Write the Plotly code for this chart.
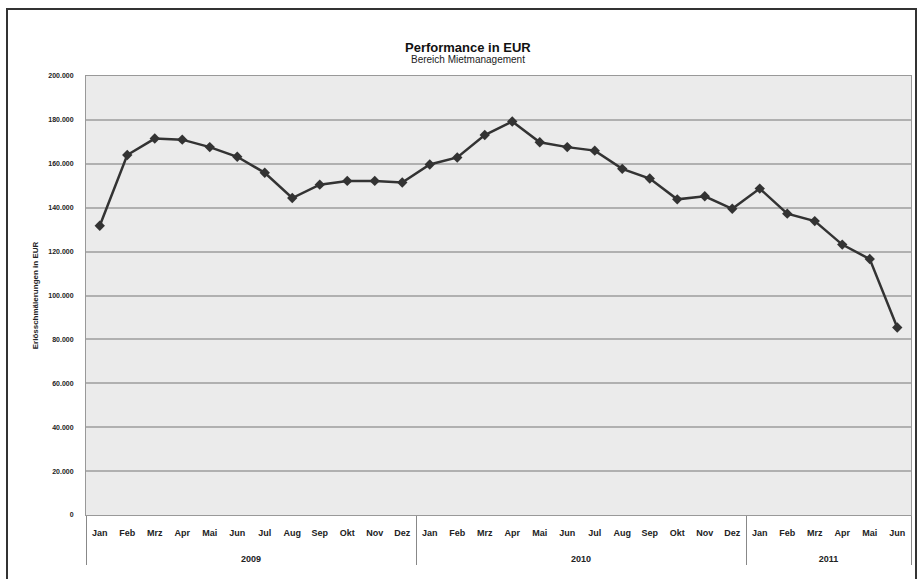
import plotly.graph_objects as go

years = ["2009"] * 12 + ["2010"] * 12 + ["2011"] * 6
months = ["Jan", "Feb", "Mrz", "Apr", "Mai", "Jun", "Jul", "Aug", "Sep", "Okt", "Nov", "Dez"] * 2 + \
         ["Jan", "Feb", "Mrz", "Apr", "Mai", "Jun"]
values = [131800, 164000, 171500, 171000, 167600, 163200, 155900, 144400, 150500, 152200, 152200, 151500,
          159700, 162900, 173100, 179300, 169800, 167600, 166000, 157700, 153300, 143800, 145200, 139500,
          148700, 137300, 133900, 123200, 116600, 85400]

W, H = 921, 579
L, R, T, B = 86, 10, 76, 64
pw, ph = W - L - R, H - T - B

def px_x(x):
    return (x - L) / pw

def px_y(y):
    return (H - B - y) / ph

# trailing blank lines give the month row extra depth so the year row sits lower
month_labels = [m + "<br> <br> " for m in months]

fig = go.Figure()
fig.add_trace(go.Scatter(
    x=[years, month_labels], y=values, mode="lines+markers",
    line=dict(color="#333333", width=2.5),
    marker=dict(symbol="diamond", size=8, color="#333333"),
    showlegend=False,
))

fig.update_layout(
    width=W, height=H,
    margin=dict(l=L, r=R, t=T, b=B, autoexpand=False),
    paper_bgcolor="white", plot_bgcolor="#ebebeb",
    separators=",.",
    font=dict(family="Liberation Sans", color="#222222"),
    xaxis=dict(
        type="multicategory", showgrid=False, ticks="",
        range=[-0.5, len(values) - 0.5], automargin=False,
        tickfont=dict(size=9, family="Liberation Sans", color="#222", weight="bold"),
        ticklabelstandoff=9,
        showdividers=True, dividercolor="#888888", dividerwidth=1,
        linecolor="#999999", showline=True, mirror=True,
    ),
    yaxis=dict(
        range=[0, 200000], tick0=0, dtick=20000, tickformat=",d", automargin=False,
        showgrid=True, gridcolor="#b0b0b0", gridwidth=1.5,
        tickfont=dict(size=7, family="Liberation Sans", color="#222", weight="bold"),
        ticks="", ticklabelstandoff=10,
        showline=True, linecolor="#999999", mirror=True, zeroline=False,
        title=dict(text="Erlösschmälerungen in EUR", font=dict(size=8, color="#222", weight="bold"), standoff=8),
    ),
    annotations=[
        dict(text="<b>Performance in EUR</b>", x=px_x(468), y=px_y(38), xref="paper", yref="paper",
             showarrow=False, font=dict(size=13, color="#111")),
        dict(text="Bereich Mietmanagement", x=px_x(468), y=px_y(52), xref="paper", yref="paper",
             showarrow=False, font=dict(size=10, color="#222")),
    ],
    shapes=[
        dict(type="rect", xref="paper", yref="paper",
             x0=px_x(7), x1=px_x(916), y0=px_y(582), y1=px_y(9),
             line=dict(color="#333333", width=2), fillcolor="rgba(0,0,0,0)", layer="below"),
    ],
)

fig.write_html("out.html", config={"displayModeBar": False},
               post_script="document.body.style.margin='0';")
